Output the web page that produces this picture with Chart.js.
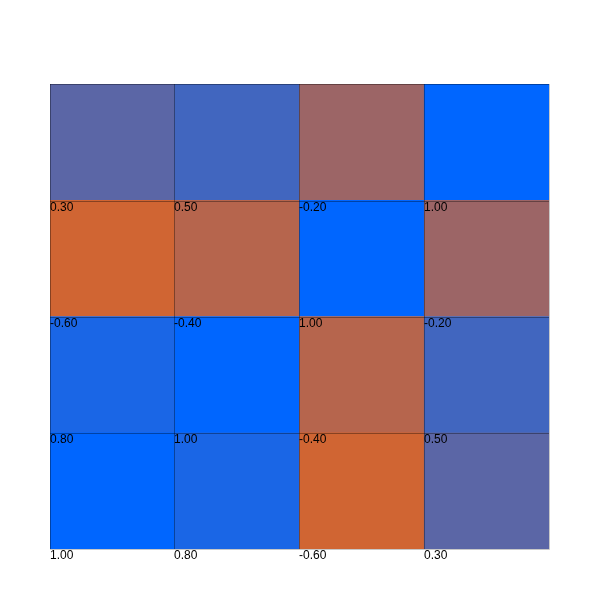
<!DOCTYPE html>
<html>
<head>
<meta charset="utf-8">
<script src="https://cdn.jsdelivr.net/npm/chart.js@4"></script>
<style>
  html, body { margin: 0; padding: 0; background: #fff; }
  #wrap { width: 600px; height: 600px; }
</style>
</head>
<body>
<div id="wrap"><canvas id="heat"></canvas></div>
<script>
const columns = ['A', 'B', 'C', 'D'];
// rows listed top to bottom
const row1 = [0.30, 0.50, -0.20, 1.00];
const row2 = [-0.60, -0.40, 1.00, -0.20];
const row3 = [0.80, 1.00, -0.40, 0.50];
const row4 = [1.00, 0.80, -0.60, 0.30];
const rows = [row1, row2, row3, row4];

function cellColor(v) {
  const t = (1 - v) / 1.6;
  const r = Math.round(0 + (208 - 0) * t);
  const g = Math.round(102 + (101 - 102) * t);
  const b = Math.round(255 + (51 - 255) * t);
  return 'rgb(' + r + ',' + g + ',' + b + ')';
}

// stacked from the bottom up
const datasets = rows.slice().reverse().map(function (vals, i) {
  return {
    label: 'row' + (rows.length - i),
    data: vals.map(function () { return 1; }),
    values: vals,
    backgroundColor: vals.map(cellColor),
    borderWidth: 0,
    barPercentage: 1,
    categoryPercentage: 1
  };
});

const cellLabels = {
  id: 'cellLabels',
  afterDatasetsDraw(chart) {
    const ctx = chart.ctx;
    const area = chart.chartArea;
    ctx.save();
    // cell edges, darkened over the fill
    ctx.strokeStyle = 'rgba(0,0,0,0.35)';
    ctx.lineWidth = 1;
    ctx.beginPath();
    chart.getDatasetMeta(0).data.forEach(function (bar) {
      const x = Math.floor(bar.x - bar.width / 2) + 0.5;
      ctx.moveTo(x, area.top);
      ctx.lineTo(x, area.bottom);
    });
    chart.data.datasets.forEach(function (ds, di) {
      const bar = chart.getDatasetMeta(di).data[0];
      const y = Math.ceil(bar.y) + 0.5;
      ctx.moveTo(area.left, y);
      ctx.lineTo(area.right, y);
    });
    ctx.stroke();
    ctx.strokeStyle = '#c8c8c8';
    ctx.beginPath();
    ctx.moveTo(area.right + 0.5, area.top);
    ctx.lineTo(area.right + 0.5, area.bottom + 0.5);
    ctx.lineTo(area.left, area.bottom + 0.5);
    ctx.stroke();
    ctx.fillStyle = '#000';
    ctx.font = '12px "Liberation Sans", Arial, sans-serif';
    ctx.textAlign = 'left';
    ctx.textBaseline = 'top';
    chart.data.datasets.forEach(function (ds, di) {
      chart.getDatasetMeta(di).data.forEach(function (bar, j) {
        const left = Math.floor(bar.x - bar.width / 2);
        ctx.fillText(ds.values[j].toFixed(2), left, Math.ceil(bar.base) + 1);
      });
    });
    ctx.restore();
  }
};

new Chart(document.getElementById('heat'), {
  type: 'bar',
  data: { labels: columns, datasets: datasets },
  options: {
    responsive: true,
    maintainAspectRatio: false,
    animation: false,
    layout: { padding: { left: 50, right: 51, top: 84, bottom: 51 } },
    plugins: {
      legend: { display: false },
      tooltip: { enabled: false }
    },
    scales: {
      x: { stacked: true, display: false },
      y: { stacked: true, display: false, min: 0, max: 4 }
    }
  },
  plugins: [cellLabels]
});
</script>
</body>
</html>
